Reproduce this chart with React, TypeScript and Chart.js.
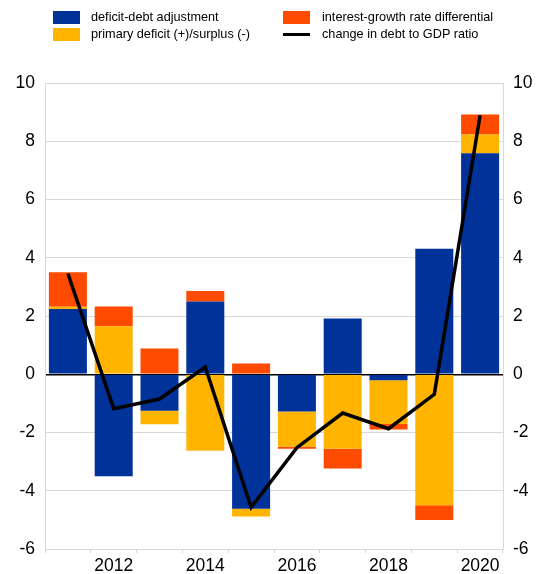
import React, { useEffect, useRef } from "react";
import { Chart, registerables } from "chart.js";

Chart.register(...registerables);

const years = ["2011", "2012", "2013", "2014", "2015", "2016", "2017", "2018", "2019", "2020"];
const deficitDebtAdjustment = [2.24, -3.5, -1.25, 2.5, -4.62, -1.28, 1.91, -0.21, 4.31, 7.59];
const primaryDeficit = [0.08, 1.65, -0.47, -2.63, -0.26, -1.21, -2.56, -1.5, -4.5, 0.64];
const interestGrowth = [1.18, 0.68, 0.88, 0.36, 0.37, -0.07, -0.68, -0.19, -0.5, 0.69];
const changeInDebt = [3.46, -1.18, -0.85, 0.25, -4.57, -2.52, -1.33, -1.87, -0.69, 8.89];
const yTicks = [-6, -4, -2, 0, 2, 4, 6, 8, 10];

const BLUE = "#003299";
const YELLOW = "#FFB400";
const RED = "#FF4B00";
const FONT = "'Liberation Sans', Arial, sans-serif";

const legendItems = [
  { label: "deficit-debt adjustment", color: BLUE, type: "box" },
  { label: "interest-growth rate differential", color: RED, type: "box" },
  { label: "primary deficit (+)/surplus (-)", color: YELLOW, type: "box" },
  { label: "change in debt to GDP ratio", color: "#000", type: "line" },
];

export default function App() {
  const ref = useRef<HTMLCanvasElement>(null);
  useEffect(() => {
    document.body.style.margin = "0";
    const ctx = ref.current!;
    const chart = new Chart(ctx, {
      type: "bar",
      data: {
        labels: years,
        datasets: [
          {
            type: "line",
            label: "change in debt to GDP ratio",
            data: changeInDebt,
            borderColor: "#000",
            borderWidth: 3.5,
            pointRadius: 0,
            tension: 0,
            order: 0,
            yAxisID: "y",
          } as any,
          { label: "deficit-debt adjustment", data: deficitDebtAdjustment, backgroundColor: BLUE, order: 1, stack: "s", yAxisID: "y" },
          { label: "primary deficit (+)/surplus (-)", data: primaryDeficit, backgroundColor: YELLOW, order: 1, stack: "s", yAxisID: "y" },
          { label: "interest-growth rate differential", data: interestGrowth, backgroundColor: RED, order: 1, stack: "s", yAxisID: "y" },
        ],
      },
      options: {
        animation: false,
        responsive: false,
        maintainAspectRatio: false,
        layout: { padding: { top: 83, left: 0, right: 0, bottom: 0 } },
        datasets: { bar: { categoryPercentage: 1, barPercentage: 0.83 } } as any,
        plugins: { legend: { display: false }, tooltip: { enabled: false } },
        scales: {
          x: {
            stacked: true,
            offset: true,
            grid: { offset: true, drawOnChartArea: false, drawTicks: true, tickLength: 4, color: "#d9d9d9" },
            border: { color: "#d9d9d9" },
            ticks: {
              autoSkip: false,
              maxRotation: 0,
              padding: 3,
              color: "#000",
              font: { family: FONT, size: 17.5 },
              callback: (v: any, i: number) => (i % 2 === 1 ? years[i] : ""),
            },
            afterFit: (s: any) => { s.height = 25; },
          },
          y: {
            position: "left",
            stacked: true,
            min: -6,
            max: 10,
            afterBuildTicks: (s: any) => { s.ticks = yTicks.map((v) => ({ value: v })); },
            grid: {
              drawTicks: false,
              color: (c: any) => (c.tick && c.tick.value === 0 ? "#000" : "#d9d9d9"),
              lineWidth: (c: any) => (c.tick && c.tick.value === 0 ? 1.5 : 1),
            },
            border: { display: true, color: "#d9d9d9" },
            ticks: { padding: 10, color: "#000", font: { family: FONT, size: 17.5 } },
            afterFit: (s: any) => { s.width = 45; },
          },
          y2: {
            position: "right",
            min: -6,
            max: 10,
            afterBuildTicks: (s: any) => { s.ticks = yTicks.map((v) => ({ value: v })); },
            grid: { drawOnChartArea: false, drawTicks: false },
            border: { display: true, color: "#d9d9d9" },
            ticks: { padding: 10, color: "#000", font: { family: FONT, size: 17.5 } },
            afterFit: (s: any) => { s.width = 49; },
          },
        },
      },
    });
    return () => chart.destroy();
  }, []);

  return (
    <div style={{ position: "relative", width: 552, height: 574, background: "#fff", fontFamily: FONT }}>
      <canvas ref={ref} width={552} height={574} style={{ position: "absolute", left: 0, top: 0 }} />
      {legendItems.map((it, i) => {
        const col = i % 2;
        const row = Math.floor(i / 2);
        const left = col === 0 ? 53 : 283;
        const top = row === 0 ? 11 : 28;
        return (
          <div key={i} style={{ position: "absolute", left, top, height: 13, display: "flex", alignItems: "center", whiteSpace: "nowrap" }}>
            {it.type === "box" ? (
              <div style={{ width: 27, height: 13, background: it.color }} />
            ) : (
              <div style={{ width: 27, height: 13, display: "flex", alignItems: "center" }}>
                <div style={{ width: 27, height: 3.5, background: "#000" }} />
              </div>
            )}
            <span style={{ marginLeft: col === 0 ? 11 : 12, fontSize: 12.7, color: "#000", lineHeight: "13px" }}>{it.label}</span>
          </div>
        );
      })}
    </div>
  );
}
